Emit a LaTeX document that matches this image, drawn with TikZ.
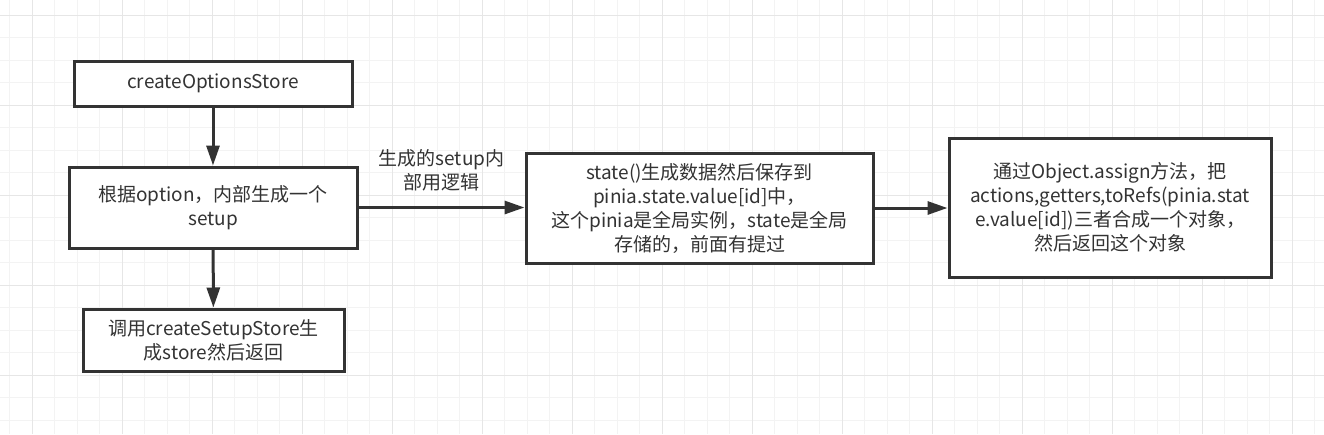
\documentclass[tikz,border=0pt]{standalone}
\usepackage{fontspec}
\setmainfont{Noto Sans CJK SC}
\usepackage{xcolor}
\usepackage{tikz}
\usetikzlibrary{arrows.meta,calc,positioning}

\definecolor{inkgray}{HTML}{333333}
\definecolor{gridminor}{HTML}{F3F3F3}
\definecolor{gridmajor}{HTML}{E6E6E6}

\begin{document}
\begin{tikzpicture}[x=1pt,y=-1pt,
    box/.style={draw=inkgray, line width=3pt, fill=white, text=inkgray,
                align=center, inner sep=0pt, font=\fontsize{19}{24}\selectfont},
    flow/.style={draw=inkgray, line width=3pt,
                 -{Triangle[length=20pt,width=13pt]}}]

\useasboundingbox (0,0) rectangle (1324,434);
\fill[white] (0,0) rectangle (1324,434);

% background grid
\foreach \k in {0,...,58} {
    \draw[gridminor, line width=1pt] (9.5+22.5*\k,0) -- (9.5+22.5*\k,434);
}
\foreach \k in {0,...,18} {
    \draw[gridminor, line width=1pt] (0,15+22.5*\k) -- (1324,15+22.5*\k);
}
\foreach \k in {0,...,14} {
    \draw[gridmajor, line width=1pt] (32+90*\k,0) -- (32+90*\k,434);
}
\foreach \k in {0,...,4} {
    \draw[gridmajor, line width=1pt] (0,15+90*\k) -- (1324,15+90*\k);
}

% boxes
\node[box, minimum width=278pt, minimum height=45pt] (opts) at (213,83.5) {createOptionsStore};
\node[box, minimum width=288pt, minimum height=81pt] (setupgen) at (213,207.5)
    {根据option，内部生成一个\\setup};
\node[box, minimum width=261pt, minimum height=62pt] (callsetup) at (213.5,340)
    {调用createSetupStore生\\成store然后返回};
\node[box, minimum width=347pt, minimum height=110pt] (statebox) at (699.5,208)
    {state()生成数据然后保存到\\pinia.state.value[id]中，\\这个pinia是全局实例，state是全局\\存储的，前面有提过};
\node[box, minimum width=322pt, minimum height=139pt] (assignbox) at (1110,207.5)
    {通过Object.assign方法，把\\actions,getters,toRefs(pinia.stat\\e.value[id])三者合成一个对象，\\然后返回这个对象};

% connectors
\draw[flow] (opts) -- (setupgen);
\draw[flow] (setupgen) -- (callsetup);
\draw[flow] (setupgen.east) -- (setupgen.east -| statebox.west);
\draw[flow] (statebox.east) -- (statebox.east -| assignbox.west);

\coordinate (mid) at ($(setupgen.east)!0.5!(statebox.west)$);
\node[above=16pt of mid, align=center, text=inkgray, inner sep=0pt,
      font=\fontsize{19}{24}\selectfont] (lbl) {生成的setup内\\部用逻辑};

\end{tikzpicture}
\end{document}
